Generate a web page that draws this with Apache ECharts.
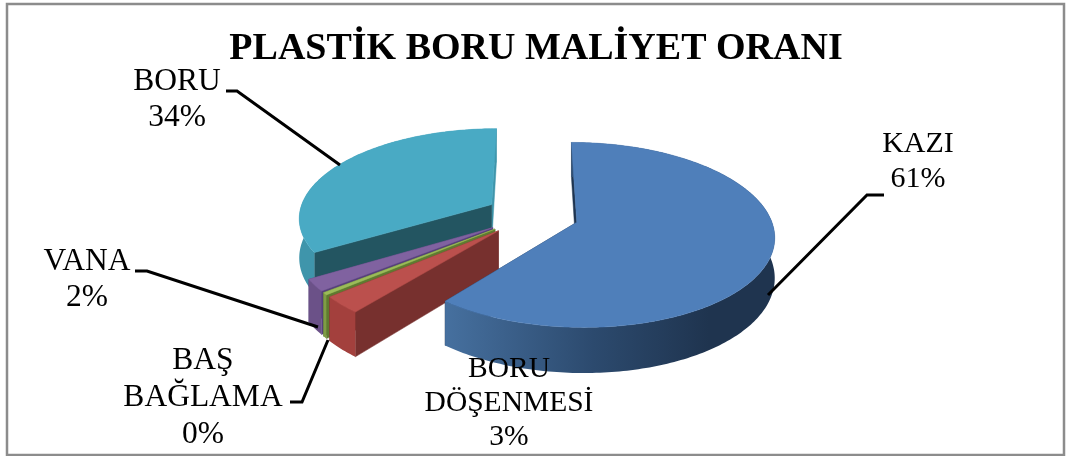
<!DOCTYPE html>
<html>
<head>
<meta charset="utf-8">
<title>Plastik boru maliyet orani</title>
<script src="https://cdn.jsdelivr.net/npm/echarts@6/dist/echarts.min.js"></script>
<style>
    html, body { margin: 0; padding: 0; background: #fff; }
    #chart { width: 1066px; height: 456px; }
</style>
</head>
<body>
<div id="chart"></div>
<script>
var chartTitle = 'PLASTİK BORU MALİYET ORANI';
var categories = ['KAZI', 'BORU DÖŞENMESİ', 'BAŞ BAĞLAMA', 'VANA', 'BORU'];
var labelLines = [['KAZI'], ['BORU', 'DÖŞENMESİ'], ['BAŞ', 'BAĞLAMA'], ['VANA'], ['BORU']];
var shares = [60.8, 3.0, 0.4, 2.1, 33.7];

// renk ve yerlesim, veriden ayri
var topColors = ['#4f7fba', '#bb504d', '#9bbb59', '#8062a0', '#49aac4'];
var startSides = ['#1f3550', '#77302e', '#5f7a30', '#55407a', '#235561'];
var endSides = ['#1f3550', '#77302e', '#5f7a30', '#55407a', '#3f95ab'];
var rimStops = [
    [[0, '#46709f'], [0.45, '#2c4a6e'], [0.8, '#1f344f'], [1, '#1f344f']],
    [[0, '#a3403d'], [1, '#a3403d']],
    [[0, '#7f9c45'], [1, '#7f9c45']],
    [[0, '#6b5188'], [1, '#6b5188']],
    [[0, '#3f95ab'], [1, '#3f95ab']]
];
var labelCenters = [[918, 144], [509, 369], [203, 361], [87, 262], [177, 82]];
var labelRowHeights = [35, 34, 37, 36, 36];
var labelSizes = [30, 29.5, 31.5, 31.5, 31.5];
var leaderLines = [
    [[768, 295], [867, 195], [884, 195]],
    null,
    [[328, 340], [302, 402], [290, 402]],
    [[318, 327], [147, 271], [135, 271]],
    [[340, 165], [237, 91], [226, 91]]
];

var pie = { vx: 532, vy: 215, R: 193, tilt: 0.46, persp: 0.135, explode: 47, depth: 39 };

function project(X, Y, h) {
    var s = 1 / (1 - pie.persp * Y / pie.R);
    return [pie.vx + s * X, pie.vy + s * (Y * pie.tilt + h)];
}

var total = shares.reduce(function (a, b) { return a + b; }, 0);

function sliceAngles(index) {
    var before = 0;
    for (var i = 0; i < index; i++) before += shares[i];
    var a0 = before / total * Math.PI * 2;
    return [a0, a0 + shares[index] / total * Math.PI * 2];
}

function renderSlice(params, api) {
    var i = params.dataIndex;
    var value = api.value(0);
    var ang = sliceAngles(i);
    var mid = (ang[0] + ang[1]) / 2;
    var ox = pie.explode * Math.sin(mid);
    var oy = -pie.explode * Math.cos(mid);

    function rimPoint(a, h) {
        return project(ox + pie.R * Math.sin(a), oy - pie.R * Math.cos(a), h);
    }
    var apexTop = project(ox, oy, 0);
    var apexBottom = project(ox, oy, pie.depth);

    var steps = Math.max(3, Math.ceil((ang[1] - ang[0]) / (Math.PI / 180)));
    var arcTop = [];
    var arcBottom = [];
    for (var k = 0; k <= steps; k++) {
        var a = ang[0] + (ang[1] - ang[0]) * k / steps;
        arcTop.push(rimPoint(a, 0));
        arcBottom.push(rimPoint(a, pie.depth));
    }

    var base = (categories.length - i) * 10;
    var children = [
        {
            type: 'polygon', z2: base,
            shape: { points: [apexTop, arcTop[steps], arcBottom[steps], apexBottom] },
            style: { fill: endSides[i], stroke: endSides[i], lineWidth: 0.5 }
        },
        {
            type: 'polygon', z2: base + 1,
            shape: { points: [apexTop, arcTop[0], arcBottom[0], apexBottom] },
            style: { fill: startSides[i], stroke: startSides[i], lineWidth: 0.5 }
        },
        {
            type: 'polygon', z2: base + 2,
            shape: { points: arcTop.concat(arcBottom.slice().reverse()) },
            style: { fill: new echarts.graphic.LinearGradient(0, 0, 1, 0, rimStops[i].map(function (s) {
                return { offset: s[0], color: s[1] };
            })) }
        },
        {
            type: 'polygon', z2: base + 3,
            shape: { points: [apexTop].concat(arcTop) },
            style: { fill: topColors[i], stroke: topColors[i], lineWidth: 0.5 }
        }
    ];

    var rows = labelLines[i].concat([Math.round(value) + '%']);
    rows.forEach(function (row, r) {
        children.push({
            type: 'text', z2: 200,
            style: {
                x: labelCenters[i][0],
                y: labelCenters[i][1] + r * labelRowHeights[i],
                text: row,
                fill: '#000',
                font: labelSizes[i] + 'px "Liberation Serif"',
                align: 'center',
                verticalAlign: 'middle'
            }
        });
    });
    if (leaderLines[i]) {
        children.push({
            type: 'polyline', z2: 150,
            shape: { points: leaderLines[i] },
            style: { fill: null, stroke: '#000', lineWidth: 3 }
        });
    }
    return { type: 'group', children: children };
}

var chart = echarts.init(document.getElementById('chart'));
chart.setOption({
    animation: false,
    backgroundColor: '#fff',
    title: {
        text: chartTitle,
        left: 531,
        top: 25,
        textAlign: 'center',
        textStyle: { color: '#000', fontFamily: 'Liberation Serif', fontWeight: 'bold', fontSize: 38 }
    },
    graphic: [{
        type: 'rect',
        shape: { x: 7, y: 4, width: 1057, height: 451 },
        style: { fill: null, stroke: '#8c8c8c', lineWidth: 2.5 },
        silent: true
    }],
    series: [{
        type: 'custom',
        coordinateSystem: 'none',
        renderItem: renderSlice,
        data: shares.map(function (v, i) { return { name: categories[i], value: [v] }; })
    }]
});
</script>
</body>
</html>
